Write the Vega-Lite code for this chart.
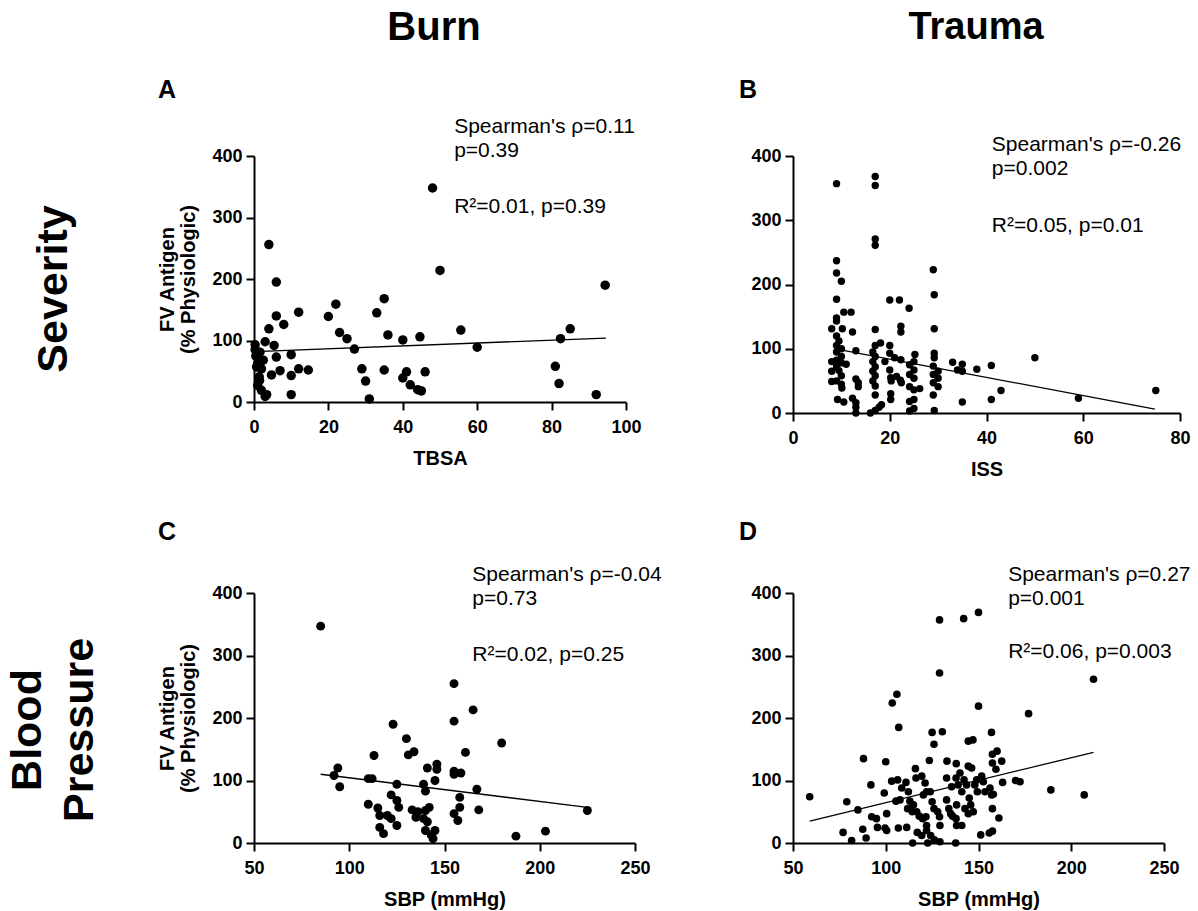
{
  "$schema": "https://vega.github.io/schema/vega-lite/v6.json",
  "padding": {"left": 6, "top": 5, "right": 5, "bottom": 5},
  "background": "white",
  "config": {
    "font": "Liberation Sans",
    "view": {"stroke": null},
    "axis": {"domainColor": "black", "domainWidth": 2, "tickColor": "black", "tickWidth": 2, "tickSize": 8, "labelFont": "Liberation Sans", "labelFontSize": 18, "labelFontWeight": "bold", "labelColor": "black", "labelPadding": 4, "labelFlush": false, "labelOverlap": false, "titleFont": "Liberation Sans", "titleFontSize": 20, "titleFontWeight": "bold", "titleColor": "black", "grid": false},
    "axisX": {"titlePadding": 12, "labelPadding": 8},
    "axisY": {"titlePadding": 13, "titleLineHeight": 21},
    "title": {"font": "Liberation Sans", "fontSize": 25, "fontWeight": "bold", "color": "black", "anchor": "start"},
    "text": {"font": "Liberation Sans", "color": "black"}
  },
  "datasets": {
    "burnTBSA": [
      {"TBSA":48,"FV":348},{"TBSA":4,"FV":256},{"TBSA":6,"FV":195},{"TBSA":50,"FV":214},{"TBSA":94.4,"FV":190},{"TBSA":22,"FV":159},{"TBSA":35,"FV":168},{"TBSA":20,"FV":139},{"TBSA":12,"FV":146},{"TBSA":33,"FV":145},{"TBSA":6,"FV":140},{"TBSA":8,"FV":126},{"TBSA":4,"FV":119},{"TBSA":55.6,"FV":117},{"TBSA":85,"FV":119},{"TBSA":23,"FV":113},{"TBSA":25,"FV":103},{"TBSA":36,"FV":109},{"TBSA":40,"FV":101},{"TBSA":44.6,"FV":106},{"TBSA":82.4,"FV":103},{"TBSA":27,"FV":86},{"TBSA":60,"FV":89},{"TBSA":3,"FV":98},{"TBSA":5.4,"FV":92},{"TBSA":0.3,"FV":93},{"TBSA":1.6,"FV":81},{"TBSA":6,"FV":73},{"TBSA":10,"FV":77},{"TBSA":1,"FV":62},{"TBSA":0.7,"FV":57},{"TBSA":2,"FV":54},{"TBSA":7,"FV":51},{"TBSA":4.7,"FV":44},{"TBSA":10,"FV":43},{"TBSA":1.4,"FV":41},{"TBSA":12,"FV":54},{"TBSA":14.6,"FV":52},{"TBSA":29,"FV":54},{"TBSA":35,"FV":52},{"TBSA":30,"FV":34},{"TBSA":31,"FV":5},{"TBSA":40,"FV":39},{"TBSA":41,"FV":49},{"TBSA":42,"FV":28},{"TBSA":44,"FV":20},{"TBSA":45,"FV":18},{"TBSA":46,"FV":49},{"TBSA":81,"FV":58},{"TBSA":82,"FV":30},{"TBSA":92,"FV":12},{"TBSA":10,"FV":12},{"TBSA":2,"FV":19},{"TBSA":3.4,"FV":12},{"TBSA":1,"FV":27},{"TBSA":0.5,"FV":75},{"TBSA":2.5,"FV":68},{"TBSA":0.3,"FV":85},{"TBSA":1.5,"FV":35},{"TBSA":3,"FV":9}
    ],
    "fitA": [{"TBSA":0.3,"FV":82},{"TBSA":94.6,"FV":104}],
    "traumaISS": [
      {"ISS":9,"FV":357},{"ISS":17,"FV":368},{"ISS":17,"FV":354},{"ISS":17,"FV":271},{"ISS":17,"FV":261},
      {"ISS":9,"FV":237},{"ISS":9,"FV":218},{"ISS":10,"FV":205},{"ISS":9,"FV":177},{"ISS":9,"FV":148},{"ISS":9,"FV":143},{"ISS":10.5,"FV":157},{"ISS":12,"FV":157},{"ISS":8,"FV":131},{"ISS":10.2,"FV":131},{"ISS":12.3,"FV":126},
      {"ISS":9,"FV":120},{"ISS":9.5,"FV":112},{"ISS":9,"FV":105},{"ISS":10,"FV":100},{"ISS":9,"FV":95},{"ISS":10,"FV":88},{"ISS":9,"FV":82},{"ISS":10,"FV":78},{"ISS":9,"FV":72},{"ISS":9.5,"FV":66},{"ISS":10,"FV":58},{"ISS":9,"FV":50},{"ISS":10,"FV":45},{"ISS":10.1,"FV":39},{"ISS":9.2,"FV":21},{"ISS":10.5,"FV":17},
      {"ISS":8,"FV":80},{"ISS":8,"FV":65},{"ISS":8,"FV":49},{"ISS":11,"FV":76},{"ISS":13,"FV":97},{"ISS":13,"FV":53},{"ISS":13.5,"FV":47},{"ISS":13.5,"FV":41},{"ISS":12.3,"FV":23},{"ISS":13,"FV":16},{"ISS":13,"FV":9},{"ISS":13,"FV":0},
      {"ISS":17,"FV":130},{"ISS":18.1,"FV":109},{"ISS":17,"FV":105},{"ISS":16.5,"FV":95},{"ISS":17,"FV":88},{"ISS":16.5,"FV":80},{"ISS":17,"FV":72},{"ISS":16.5,"FV":65},{"ISS":17,"FV":58},{"ISS":16.5,"FV":50},{"ISS":17,"FV":42},{"ISS":17,"FV":28},{"ISS":16,"FV":0},{"ISS":17,"FV":4},{"ISS":17.8,"FV":9},{"ISS":18.3,"FV":13},
      {"ISS":19,"FV":80},{"ISS":20,"FV":105},{"ISS":20,"FV":93},{"ISS":20,"FV":67},{"ISS":20.2,"FV":55},{"ISS":20.3,"FV":50},{"ISS":20.2,"FV":30},{"ISS":20.2,"FV":21},{"ISS":20,"FV":176},{"ISS":22,"FV":176},{"ISS":22.3,"FV":135},{"ISS":22.3,"FV":126},{"ISS":24,"FV":163},{"ISS":21,"FV":86},{"ISS":22.3,"FV":83},{"ISS":21.4,"FV":57},{"ISS":22.2,"FV":51},{"ISS":22.4,"FV":47},
      {"ISS":24.1,"FV":75},{"ISS":24.1,"FV":60},{"ISS":25,"FV":67},{"ISS":25,"FV":54},{"ISS":25.2,"FV":91},{"ISS":25,"FV":80},{"ISS":24.1,"FV":41},{"ISS":25,"FV":36},{"ISS":24.1,"FV":18},{"ISS":25,"FV":21},{"ISS":24.1,"FV":3},{"ISS":25,"FV":7},{"ISS":26.2,"FV":38},
      {"ISS":29,"FV":223},{"ISS":29.2,"FV":184},{"ISS":29.2,"FV":131},{"ISS":29.2,"FV":93},{"ISS":29.2,"FV":86},{"ISS":29,"FV":73},{"ISS":30,"FV":65},{"ISS":29,"FV":60},{"ISS":30,"FV":54},{"ISS":29,"FV":47},{"ISS":30,"FV":41},{"ISS":29,"FV":28},{"ISS":29.2,"FV":4},
      {"ISS":33,"FV":79},{"ISS":34,"FV":67},{"ISS":35,"FV":76},{"ISS":35,"FV":65},{"ISS":35,"FV":17},{"ISS":38,"FV":68},{"ISS":41,"FV":74},{"ISS":41,"FV":21},{"ISS":43,"FV":35},{"ISS":50,"FV":86},{"ISS":59,"FV":23},{"ISS":75,"FV":35}
    ],
    "fitB": [{"ISS":9.3,"FV":99},{"ISS":74.8,"FV":6}],
    "burnSBP": [
      {"SBP":85,"FV":347},{"SBP":155,"FV":255},{"SBP":165,"FV":213},{"SBP":155,"FV":195},{"SBP":123,"FV":190},{"SBP":130,"FV":167},{"SBP":180,"FV":160},{"SBP":131,"FV":141},{"SBP":134,"FV":146},{"SBP":113,"FV":140},{"SBP":161,"FV":145},{"SBP":94,"FV":120},{"SBP":92,"FV":108},{"SBP":95,"FV":90},{"SBP":110,"FV":103},{"SBP":112,"FV":103},{"SBP":125,"FV":94},{"SBP":141,"FV":120},{"SBP":146,"FV":126},{"SBP":146,"FV":118},{"SBP":145,"FV":100},{"SBP":155,"FV":115},{"SBP":158.6,"FV":112},{"SBP":155,"FV":110},{"SBP":139,"FV":94},{"SBP":140,"FV":83},{"SBP":122,"FV":77},{"SBP":125,"FV":68},{"SBP":126,"FV":57},{"SBP":167,"FV":86},{"SBP":158,"FV":73},{"SBP":158,"FV":57},{"SBP":155,"FV":47},{"SBP":157,"FV":36},{"SBP":168,"FV":53},{"SBP":110,"FV":62},{"SBP":115,"FV":56},{"SBP":116,"FV":44},{"SBP":120,"FV":44},{"SBP":122,"FV":39},{"SBP":125,"FV":28},{"SBP":116,"FV":25},{"SBP":118,"FV":15},{"SBP":133,"FV":53},{"SBP":136,"FV":50},{"SBP":135,"FV":41},{"SBP":140,"FV":52},{"SBP":142,"FV":57},{"SBP":139,"FV":39},{"SBP":141,"FV":34},{"SBP":140,"FV":20},{"SBP":145,"FV":20},{"SBP":144,"FV":7},{"SBP":143,"FV":13},{"SBP":187.5,"FV":11},{"SBP":203,"FV":19},{"SBP":225,"FV":52}
    ],
    "fitC": [{"SBP":85,"FV":110},{"SBP":225,"FV":57}],
    "traumaSBP": [
      {"SBP":150,"FV":369},{"SBP":129,"FV":357},{"SBP":142,"FV":359},{"SBP":129,"FV":272},{"SBP":212,"FV":262},{"SBP":106,"FV":238},{"SBP":103.5,"FV":224},{"SBP":150,"FV":219},{"SBP":177,"FV":207},{"SBP":107,"FV":185},{"SBP":125,"FV":177},{"SBP":130.5,"FV":178},{"SBP":157,"FV":177},{"SBP":126,"FV":158},{"SBP":144.5,"FV":163},{"SBP":147,"FV":165},{"SBP":157.5,"FV":142},{"SBP":160,"FV":147},{"SBP":162.5,"FV":131},{"SBP":88,"FV":135},{"SBP":100,"FV":130},{"SBP":123.5,"FV":132},{"SBP":133,"FV":131},{"SBP":138,"FV":127},{"SBP":157.5,"FV":128},{"SBP":159.4,"FV":118},{"SBP":116,"FV":119},{"SBP":163,"FV":97},{"SBP":170,"FV":100},{"SBP":172.4,"FV":98},{"SBP":189,"FV":85},{"SBP":207,"FV":77},{"SBP":59,"FV":74},{"SBP":79,"FV":66},{"SBP":85,"FV":53},{"SBP":92,"FV":93},{"SBP":77,"FV":17},{"SBP":81.6,"FV":4},{"SBP":87.6,"FV":22},{"SBP":89.4,"FV":8},{"SBP":92.4,"FV":42},{"SBP":95,"FV":39},{"SBP":95.5,"FV":25},{"SBP":99.2,"FV":80},{"SBP":100.5,"FV":47},{"SBP":99.6,"FV":24},{"SBP":100.5,"FV":20},{"SBP":103.2,"FV":99},{"SBP":106.4,"FV":101},{"SBP":108.6,"FV":88},{"SBP":107.7,"FV":69},{"SBP":105.5,"FV":67},{"SBP":106.8,"FV":24},{"SBP":111.3,"FV":25},{"SBP":110.9,"FV":97},{"SBP":112.2,"FV":82},{"SBP":113,"FV":67},{"SBP":114.9,"FV":61},{"SBP":111.8,"FV":55},{"SBP":114.3,"FV":50},{"SBP":116.3,"FV":104},{"SBP":119.4,"FV":107},{"SBP":121.2,"FV":96},{"SBP":120.3,"FV":77},{"SBP":122,"FV":82},{"SBP":114.5,"FV":0},{"SBP":122.6,"FV":0},{"SBP":116.7,"FV":50},{"SBP":118.1,"FV":43},{"SBP":119.9,"FV":39},{"SBP":121.7,"FV":42},{"SBP":122,"FV":28},{"SBP":122,"FV":20},{"SBP":124.2,"FV":12},{"SBP":117,"FV":17},{"SBP":119.4,"FV":12},{"SBP":124,"FV":82},{"SBP":125,"FV":66},{"SBP":126,"FV":55},{"SBP":128,"FV":50},{"SBP":129,"FV":42},{"SBP":126.2,"FV":5},{"SBP":129.2,"FV":2},{"SBP":129.2,"FV":28},{"SBP":132.8,"FV":104},{"SBP":135.5,"FV":90},{"SBP":137.9,"FV":104},{"SBP":139,"FV":93},{"SBP":140,"FV":112},{"SBP":141,"FV":82},{"SBP":132.8,"FV":69},{"SBP":134,"FV":55},{"SBP":135,"FV":47},{"SBP":136,"FV":43},{"SBP":138.2,"FV":61},{"SBP":137.9,"FV":39},{"SBP":138.2,"FV":28},{"SBP":141,"FV":28},{"SBP":137.7,"FV":0},{"SBP":142.2,"FV":101},{"SBP":143.6,"FV":93},{"SBP":145,"FV":72},{"SBP":145.8,"FV":61},{"SBP":147.2,"FV":50},{"SBP":148,"FV":93},{"SBP":149.4,"FV":82},{"SBP":142.7,"FV":55},{"SBP":144.5,"FV":47},{"SBP":149,"FV":101},{"SBP":151.7,"FV":107},{"SBP":152.6,"FV":98},{"SBP":153.5,"FV":82},{"SBP":156.2,"FV":88},{"SBP":157.1,"FV":77},{"SBP":157.5,"FV":55},{"SBP":158,"FV":78},{"SBP":151.2,"FV":13},{"SBP":155.8,"FV":16},{"SBP":157.5,"FV":19},{"SBP":161,"FV":40},{"SBP":144.5,"FV":123},{"SBP":146.3,"FV":120}
    ],
    "fitD": [{"SBP":59,"FV":35},{"SBP":212,"FV":145}]
  },
  "vconcat": [
    {
      "hconcat": [
        {"width": 84, "height": 46, "data": {"values": [{"label": ""}]}, "mark": {"type": "text"}, "encoding": {"text": {"field": "label"}}},
        {"width": 360, "height": 46, "data": {"values": [{"label": "Burn"}]}, "mark": {"type": "text", "fontSize": 40, "fontWeight": "bold", "align": "center", "baseline": "middle"}, "encoding": {"text": {"field": "label"}}},
        {"width": 408, "height": 46, "data": {"values": [{"label": "Trauma"}]}, "mark": {"type": "text", "fontSize": 38, "fontWeight": "bold", "align": "center", "baseline": "middle"}, "encoding": {"text": {"field": "label"}}}
      ],
      "spacing": 158,
      "bounds": "flush"
    },
    {
      "concat": [
        {"width": 84, "height": 266, "data": {"values": [{"label": "Severity"}]}, "mark": {"type": "text", "angle": 270, "fontSize": 43, "fontWeight": "bold", "align": "center", "baseline": "middle"}, "encoding": {"text": {"field": "label"}}},
        {
          "width": 372, "height": 246,
          "title": {"text": "A", "frame": "bounds", "offset": 13},
          "layer": [
            {"data": {"name": "burnTBSA"}, "mark": {"type": "circle", "size": 90, "opacity": 1, "color": "black"},
             "encoding": {
               "x": {"field": "TBSA", "type": "quantitative", "scale": {"domain": [0, 100], "nice": false, "zero": false}, "axis": {"values": [0, 20, 40, 60, 80, 100], "title": "TBSA"}},
               "y": {"field": "FV", "type": "quantitative", "scale": {"domain": [0, 400], "nice": false, "zero": false}, "axis": {"values": [0, 100, 200, 300, 400], "title": ["FV Antigen", "(% Physiologic)"]}}
             }},
            {"data": {"name": "fitA"}, "mark": {"type": "line", "color": "black", "strokeWidth": 1.3},
             "encoding": {"x": {"field": "TBSA", "type": "quantitative", "scale": {"domain": [0, 100], "nice": false, "zero": false}}, "y": {"field": "FV", "type": "quantitative", "scale": {"domain": [0, 400], "nice": false, "zero": false}}}},
            {"data": {"values": [{"note": "Spearman's ρ=0.11\np=0.39"}]}, "mark": {"type": "text", "align": "left", "baseline": "alphabetic", "fontSize": 21, "lineBreak": "\n", "lineHeight": 24},
             "encoding": {"x": {"datum": 53.8, "type": "quantitative", "scale": {"domain": [0, 100], "nice": false, "zero": false}}, "y": {"datum": 437, "type": "quantitative", "scale": {"domain": [0, 400], "nice": false, "zero": false}}, "text": {"field": "note"}}},
            {"data": {"values": [{"note": "R²=0.01, p=0.39"}]}, "mark": {"type": "text", "align": "left", "baseline": "alphabetic", "fontSize": 21},
             "encoding": {"x": {"datum": 53.8, "type": "quantitative", "scale": {"domain": [0, 100], "nice": false, "zero": false}}, "y": {"datum": 308, "type": "quantitative", "scale": {"domain": [0, 400], "nice": false, "zero": false}}, "text": {"field": "note"}}}
          ]
        },
        {
          "width": 387, "height": 257,
          "title": {"text": "B", "frame": "bounds", "offset": 31, "dx": -12},
          "layer": [
            {"data": {"name": "traumaISS"}, "mark": {"type": "circle", "size": 55, "opacity": 1, "color": "black"},
             "encoding": {
               "x": {"field": "ISS", "type": "quantitative", "scale": {"domain": [0, 80], "nice": false, "zero": false}, "axis": {"values": [0, 20, 40, 60, 80], "title": "ISS"}},
               "y": {"field": "FV", "type": "quantitative", "scale": {"domain": [0, 400], "nice": false, "zero": false}, "axis": {"values": [0, 100, 200, 300, 400], "title": null}}
             }},
            {"data": {"name": "fitB"}, "mark": {"type": "line", "color": "black", "strokeWidth": 1.3},
             "encoding": {"x": {"field": "ISS", "type": "quantitative", "scale": {"domain": [0, 80], "nice": false, "zero": false}}, "y": {"field": "FV", "type": "quantitative", "scale": {"domain": [0, 400], "nice": false, "zero": false}}}},
            {"data": {"values": [{"note": "Spearman's ρ=-0.26\np=0.002"}]}, "mark": {"type": "text", "align": "left", "baseline": "alphabetic", "fontSize": 21, "lineBreak": "\n", "lineHeight": 24},
             "encoding": {"x": {"datum": 41.1, "type": "quantitative", "scale": {"domain": [0, 80], "nice": false, "zero": false}}, "y": {"datum": 408, "type": "quantitative", "scale": {"domain": [0, 400], "nice": false, "zero": false}}, "text": {"field": "note"}}},
            {"data": {"values": [{"note": "R²=0.05, p=0.01"}]}, "mark": {"type": "text", "align": "left", "baseline": "alphabetic", "fontSize": 21},
             "encoding": {"x": {"datum": 41.1, "type": "quantitative", "scale": {"domain": [0, 80], "nice": false, "zero": false}}, "y": {"datum": 282, "type": "quantitative", "scale": {"domain": [0, 400], "nice": false, "zero": false}}, "text": {"field": "note"}}}
          ]
        },
        {"width": 84, "height": 274, "data": {"values": [{"label": "Blood\nPressure"}]}, "mark": {"type": "text", "angle": 270, "fontSize": 43, "fontWeight": "bold", "align": "center", "baseline": "middle", "lineBreak": "\n", "lineHeight": 52, "dy": -26}, "encoding": {"text": {"field": "label"}}},
        {
          "width": 381, "height": 250,
          "title": {"text": "C", "frame": "bounds", "offset": 19},
          "layer": [
            {"data": {"name": "burnSBP"}, "mark": {"type": "circle", "size": 80, "opacity": 1, "color": "black"},
             "encoding": {
               "x": {"field": "SBP", "type": "quantitative", "scale": {"domain": [50, 250], "nice": false, "zero": false}, "axis": {"values": [50, 100, 150, 200, 250], "title": "SBP (mmHg)"}},
               "y": {"field": "FV", "type": "quantitative", "scale": {"domain": [0, 400], "nice": false, "zero": false}, "axis": {"values": [0, 100, 200, 300, 400], "title": ["FV Antigen", "(% Physiologic)"]}}
             }},
            {"data": {"name": "fitC"}, "mark": {"type": "line", "color": "black", "strokeWidth": 1.3},
             "encoding": {"x": {"field": "SBP", "type": "quantitative", "scale": {"domain": [50, 250], "nice": false, "zero": false}}, "y": {"field": "FV", "type": "quantitative", "scale": {"domain": [0, 400], "nice": false, "zero": false}}}},
            {"data": {"values": [{"note": "Spearman's ρ=-0.04\np=0.73"}]}, "mark": {"type": "text", "align": "left", "baseline": "alphabetic", "fontSize": 21, "lineBreak": "\n", "lineHeight": 24},
             "encoding": {"x": {"datum": 164.6, "type": "quantitative", "scale": {"domain": [50, 250], "nice": false, "zero": false}}, "y": {"datum": 418.6, "type": "quantitative", "scale": {"domain": [0, 400], "nice": false, "zero": false}}, "text": {"field": "note"}}},
            {"data": {"values": [{"note": "R²=0.02, p=0.25"}]}, "mark": {"type": "text", "align": "left", "baseline": "alphabetic", "fontSize": 21},
             "encoding": {"x": {"datum": 164.6, "type": "quantitative", "scale": {"domain": [50, 250], "nice": false, "zero": false}}, "y": {"datum": 291.7, "type": "quantitative", "scale": {"domain": [0, 400], "nice": false, "zero": false}}, "text": {"field": "note"}}}
          ]
        },
        {
          "width": 371, "height": 250,
          "title": {"text": "D", "frame": "bounds", "offset": 19, "dx": -12},
          "layer": [
            {"data": {"name": "traumaSBP"}, "mark": {"type": "circle", "size": 58, "opacity": 1, "color": "black"},
             "encoding": {
               "x": {"field": "SBP", "type": "quantitative", "scale": {"domain": [50, 250], "nice": false, "zero": false}, "axis": {"values": [50, 100, 150, 200, 250], "title": "SBP (mmHg)"}},
               "y": {"field": "FV", "type": "quantitative", "scale": {"domain": [0, 400], "nice": false, "zero": false}, "axis": {"values": [0, 100, 200, 300, 400], "title": null}}
             }},
            {"data": {"name": "fitD"}, "mark": {"type": "line", "color": "black", "strokeWidth": 1.3},
             "encoding": {"x": {"field": "SBP", "type": "quantitative", "scale": {"domain": [50, 250], "nice": false, "zero": false}}, "y": {"field": "FV", "type": "quantitative", "scale": {"domain": [0, 400], "nice": false, "zero": false}}}},
            {"data": {"values": [{"note": "Spearman's ρ=0.27\np=0.001"}]}, "mark": {"type": "text", "align": "left", "baseline": "alphabetic", "fontSize": 21, "lineBreak": "\n", "lineHeight": 24},
             "encoding": {"x": {"datum": 166, "type": "quantitative", "scale": {"domain": [50, 250], "nice": false, "zero": false}}, "y": {"datum": 418.6, "type": "quantitative", "scale": {"domain": [0, 400], "nice": false, "zero": false}}, "text": {"field": "note"}}},
            {"data": {"values": [{"note": "R²=0.06, p=0.003"}]}, "mark": {"type": "text", "align": "left", "baseline": "alphabetic", "fontSize": 21},
             "encoding": {"x": {"datum": 166, "type": "quantitative", "scale": {"domain": [50, 250], "nice": false, "zero": false}}, "y": {"datum": 295.5, "type": "quantitative", "scale": {"domain": [0, 400], "nice": false, "zero": false}}, "text": {"field": "note"}}}
          ]
        }
      ],
      "columns": 3,
      "spacing": {"row": 171, "column": 158},
      "align": "each",
      "bounds": "flush"
    }
  ],
  "spacing": 151,
  "bounds": "flush"
}
